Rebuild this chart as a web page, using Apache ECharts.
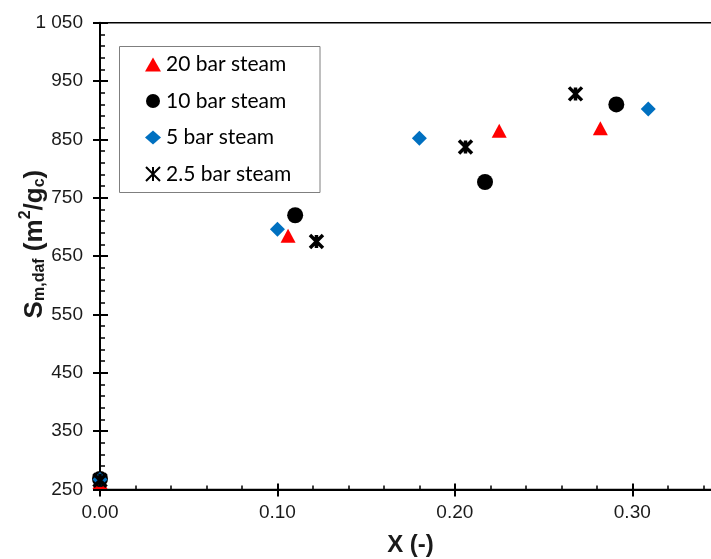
<!DOCTYPE html>
<html>
<head>
<meta charset="utf-8">
<script src="https://cdn.jsdelivr.net/npm/echarts@6/dist/echarts.min.js"></script>
<style>
  html, body { margin: 0; padding: 0; background: #fff; }
  #chart { width: 711px; height: 559px; }
</style>
</head>
<body>
<div id="chart"></div>
<script>
// Specific surface area vs. conversion for steam gasification at several pressures
const seriesNames = ['20 bar steam', '10 bar steam', '5 bar steam', '2.5 bar steam'];

const x20 = [0.000, 0.106, 0.225, 0.282];
const y20 = [263, 685, 865, 869];

const x10 = [0.000, 0.110, 0.217, 0.291];
const y10 = [268, 720, 777, 910];

const x5 = [0.000, 0.100, 0.180, 0.309];
const y5 = [267, 696, 852, 902];

const x25 = [0.000, 0.122, 0.206, 0.268];
const y25 = [266, 675, 837, 928];

const xTicks = [0.00, 0.10, 0.20, 0.30];

const pairs = (xs, ys) => xs.map((x, i) => [x, ys[i]]);

const FONT = '"Liberation Sans", Arial, sans-serif';
const asterisk = 'path://M0 0L10 10M10 0L0 10M5 0L5 10';

const chart = echarts.init(document.getElementById('chart'), null, { renderer: 'canvas' });

const yLabelFmt = v => String(Math.round(v)).replace(/\B(?=(\d{3})+(?!\d))/g, ' ');
const xLabelFmt = v => (xTicks.some(t => Math.abs(t - v) < 1e-9) ? v.toFixed(2) : '');

const commonX = { type: 'value', min: 0, max: 0.35, interval: 0.1, splitLine: { show: false } };
const commonY = { type: 'value', min: 250, max: 1050, interval: 100, splitLine: { show: false } };

chart.setOption({
  animation: false,
  backgroundColor: '#fff',
  grid: {
    left: 100, top: 22.7, right: -10, bottom: 69.5,
    containLabel: false,
    outerBoundsMode: 'none',
    show: true, borderColor: '#000', borderWidth: 1.5, backgroundColor: 'transparent'
  },
  xAxis: [
    Object.assign({}, commonX, {
      position: 'bottom',
      axisLine: { show: true, lineStyle: { color: '#000', width: 2 } },
      axisTick: { show: true, inside: true, length: 6, lineStyle: { color: '#000', width: 2 } },
      minorTick: { show: true, splitNumber: 5, length: 4, lineStyle: { color: '#000', width: 1.5 } },
      axisLabel: {
        show: true, margin: 14, formatter: xLabelFmt, showMaxLabel: false,
        color: '#1a1a1a', fontFamily: FONT, fontSize: 19
      },
      name: 'X (-)',
      nameLocation: 'middle',
      nameGap: 44,
      nameMoveOverlap: false,
      nameTextStyle: { fontFamily: FONT, fontWeight: 'bold', fontSize: 24, color: '#1a1a1a' }
    }),
    Object.assign({}, commonX, {
      position: 'bottom', offset: 0,
      axisLine: { show: false },
      axisTick: { show: true, inside: false, length: 7, lineStyle: { color: '#000', width: 2 } },
      axisLabel: { show: false }
    })
  ],
  yAxis: [
    Object.assign({}, commonY, {
      position: 'left',
      axisLine: { show: true, lineStyle: { color: '#000', width: 2 } },
      axisTick: { show: true, inside: true, length: 8, lineStyle: { color: '#000', width: 2 } },
      minorTick: { show: true, splitNumber: 5, length: 5, lineStyle: { color: '#000', width: 1.5 } },
      axisLabel: {
        show: true, margin: 17, formatter: yLabelFmt,
        color: '#1a1a1a', fontFamily: FONT, fontSize: 19
      },
      name: '{b|S}{s|m,daf}{b| (m}{p|2}{b|/g}{s|c}{b|)}',
      nameLocation: 'middle',
      nameGap: 52,
      nameRotate: 90,
      nameMoveOverlap: false,
      nameTextStyle: {
        fontFamily: FONT, fontWeight: 'bold', color: '#1a1a1a',
        padding: [0, 0, 0, 24],
        rich: {
          b: { fontFamily: FONT, fontWeight: 'bold', fontSize: 26, color: '#1a1a1a', verticalAlign: 'bottom', lineHeight: 30 },
          s: { fontFamily: FONT, fontWeight: 'bold', fontSize: 16, color: '#1a1a1a', verticalAlign: 'bottom', lineHeight: 26 },
          p: { fontFamily: FONT, fontWeight: 'bold', fontSize: 16, color: '#1a1a1a', verticalAlign: 'top', lineHeight: 30 }
        }
      }
    }),
    Object.assign({}, commonY, {
      position: 'left', offset: 0,
      axisLine: { show: false },
      axisTick: { show: true, inside: false, length: 7, lineStyle: { color: '#000', width: 2 } },
      axisLabel: { show: false }
    })
  ],
  legend: {
    orient: 'vertical',
    left: 145,
    top: 54,
    padding: 0,
    itemWidth: 16,
    itemHeight: 14,
    itemGap: 15.5,
    data: seriesNames,
    textStyle: { fontFamily: 'Lato, "Open Sans", sans-serif', fontSize: 21, color: '#000', lineHeight: 21 }
  },
  graphic: [{
    type: 'rect',
    shape: { x: 119.5, y: 46.5, width: 200.5, height: 146 },
    style: { fill: 'none', stroke: '#7f7f7f', lineWidth: 1 },
    z: 10
  }],
  series: [
    {
      name: seriesNames[0], type: 'scatter', data: pairs(x20, y20),
      symbol: 'triangle', symbolSize: [15, 14],
      itemStyle: { color: '#ff0000', opacity: 1 }, z: 3
    },
    {
      name: seriesNames[1], type: 'scatter', data: pairs(x10, y10),
      symbol: 'circle', symbolSize: 16,
      itemStyle: { color: '#000000', opacity: 1 }, z: 4
    },
    {
      name: seriesNames[2], type: 'scatter', data: pairs(x5, y5),
      symbol: 'diamond', symbolSize: 15,
      itemStyle: { color: '#0070c0', opacity: 1 }, z: 5
    },
    {
      name: seriesNames[3], type: 'scatter', data: pairs(x25, y25),
      symbol: asterisk, symbolSize: [13, 13],
      itemStyle: { color: '#000', borderColor: '#000', borderWidth: 3.5, opacity: 1 }, z: 6
    }
  ]
});
</script>
</body>
</html>
